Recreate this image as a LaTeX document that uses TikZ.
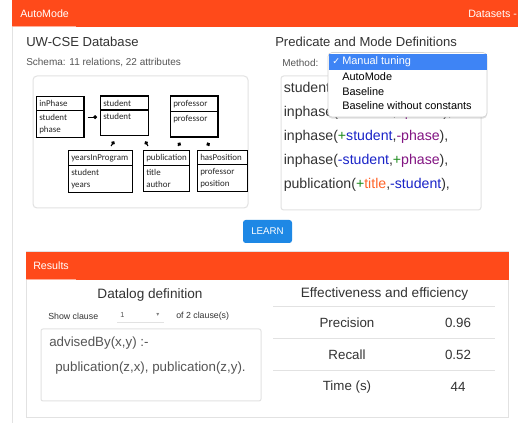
\documentclass[tikz,border=0pt]{standalone}
\usepackage{fontspec}
\setmainfont{Liberation Sans}
\newfontfamily\schemafont{Carlito}
\newfontfamily\symfont{DejaVu Sans}
\usetikzlibrary{arrows.meta,positioning,calc,shapes.multipart,shadows}
\definecolor{barorange}{RGB}{255,74,26}
\definecolor{btnblue}{RGB}{30,136,229}
\definecolor{selblue}{RGB}{62,132,245}
\definecolor{txtdark}{RGB}{51,51,51}
\definecolor{txtgrey}{RGB}{85,85,85}
\definecolor{linegrey}{RGB}{226,226,226}
\definecolor{plusgreen}{RGB}{30,140,30}
\definecolor{typeblue}{RGB}{25,35,200}
\definecolor{typepurple}{RGB}{130,20,130}
\definecolor{typeorange}{RGB}{255,100,40}

\begin{document}
\begin{tikzpicture}[x=0.75pt,y=-0.75pt,>=Latex]
  \tikzstyle{label}=[anchor=west,inner sep=0pt]
  \tikzstyle{heading}=[label,text=txtdark,font=\fontsize{9.8}{12}\selectfont]
  \tikzstyle{small}=[label,text=txtgrey,font=\fontsize{7.5}{9}\selectfont]
  \tikzstyle{code}=[label,text=txtdark,font=\fontsize{10.6}{13}\selectfont]
  \tikzstyle{item}=[label,text=black,font=\fontsize{8.2}{10}\selectfont]
  \tikzstyle{cell}=[inner sep=0pt,text=txtdark,font=\fontsize{10}{12}\selectfont]
  \tikzstyle{frame}=[draw=linegrey,line width=0.75pt]
  \tikzstyle{tbl}=[draw,line width=0.9pt,rectangle split,rectangle split parts=2,anchor=north west,inner xsep=2pt,inner ysep=2.4pt,align=left,text=black!85,font=\schemafont\fontsize{6.7}{9}\selectfont]
  \tikzstyle{link}=[-{Circle[length=2.8pt]},line width=0.8pt]
  \useasboundingbox[fill=white] (0,0) rectangle (518,423);

  % top bar
  \fill[barorange] (12,0) rectangle (518,27);
  \draw[white!55!barorange,line width=0.9pt] (12,26.5) -- (76,26.5);
  \draw[linegrey,line width=0.75pt] (12,27) -- (12,423);
  \node[label,text=white,font=\fontsize{8}{10}\selectfont] (apptitle) at (20,14) {AutoMode};
  \node[label,text=white,font=\fontsize{8}{10}\selectfont] (datasets) at (468,14) {Datasets -};

  % database and schema
  \node[heading] (dbtitle) at (26,42) {UW-CSE Database};
  \node[small] (schema) at (26,63) {Schema: 11 relations, 22 attributes};
  \draw[frame,rounded corners=3pt] (33,76) rectangle (248,208);
  \node[tbl,text width=31.5pt] (inphase) at (36,96) {inPhase\nodepart{two}student\\phase};
  \node[tbl,text width=32pt] (student) at (100,95.5) {student\nodepart{two}student\\\mbox{}};
  \node[tbl,text width=31.5pt] (professor) at (170,95.5) {professor\nodepart{two}professor\\\mbox{}};
  \node[tbl,text width=44pt] (yearsinprogram) at (68,150) {yearsInProgram\nodepart{two}student\\years};
  \node[tbl,text width=30.5pt] (publication) at (143,150) {publication\nodepart{two}title\\author};
  \node[tbl,text width=33.5pt] (hasposition) at (197,150) {hasPosition\nodepart{two}professor\\position};
  \draw[link] ($(inphase.east)+(3,0)$) -- ($(student.west|-inphase.east)+(-3,0)$);
  \draw[link] ($(yearsinprogram.north)+(10.5,-4)$) -- ($(student.south)+(-10.5,5)$);
  \draw[link] ($(publication.north west)+(5,-4)$) -- ($(student.south east)+(-4,5)$);
  \draw[link] ($(publication.north)+(11.5,-4)$) -- ($(professor.south)+(-14,5)$);
  \draw[link] ($(hasposition.north)+(-13.5,-4)$) -- ($(professor.south)+(13,5)$);

  % predicate and mode definitions
  \node[heading] (predtitle) at (275,42) {Predicate and Mode Definitions};
  \node[small] (method) at (282,63) {Method:};
  \draw[frame,rounded corners=2pt] (281,76) rectangle (481,210);
  \node[code] (mode1) at (283.5,89) {student(\textcolor{plusgreen}{+}\textcolor{typeblue}{student}),};
  \node[code] (mode2) at (283.5,113) {inphase(\textcolor{plusgreen}{+}\textcolor{typeblue}{student},\textcolor{plusgreen}{+}\textcolor{typepurple}{phase}),};
  \node[code] (mode3) at (283.5,137) {inphase(\textcolor{plusgreen}{+}\textcolor{typeblue}{student},\textcolor{typepurple}{-phase}),};
  \node[code] (mode4) at (283.5,161) {inphase(\textcolor{typeblue}{-student},\textcolor{plusgreen}{+}\textcolor{typepurple}{phase}),};
  \node[code] (mode5) at (283.5,185) {publication(\textcolor{plusgreen}{+}\textcolor{typeorange}{title},\textcolor{typeblue}{-student}),};

  % method menu
  \filldraw[fill=white,draw=gray!35,line width=0.5pt,rounded corners=3pt,drop shadow={opacity=0.25,shadow xshift=0pt,shadow yshift=-1.2pt}] (328,52.5) rectangle (487,117);
  \fill[selblue] (329,54.5) rectangle (486.5,70);
  \node[label,text=white,font=\symfont\fontsize{7}{9}\selectfont] (check) at (332,62) {✓};
  \node[item,text=white] (manual) at (342,62) {Manual tuning};
  \node[item] (automode) at (342,77) {AutoMode};
  \node[item] (baseline) at (342,91.5) {Baseline};
  \node[item] (noconst) at (342,105.5) {Baseline without constants};

  % learn
  \node[fill=btnblue,rounded corners=2pt,minimum width=36.75pt,minimum height=17.25pt,inner sep=0pt,text=white,font=\fontsize{7.3}{9}\selectfont] (learn) at (267.5,231.5) {LEARN};

  % results
  \draw[frame] (26,252) rectangle (508.5,417.5);
  \fill[barorange] (26,252) rectangle (508.5,280);
  \draw[white!55!barorange,line width=0.9pt] (26,279.5) -- (76,279.5);
  \node[label,text=white,font=\fontsize{8}{10}\selectfont] (results) at (33,266) {Results};

  \node[cell,font=\fontsize{10.2}{12}\selectfont] (dltitle) at (150,295) {Datalog definition};
  \node[small,text=txtdark,font=\fontsize{6.6}{8}\selectfont] (showclause) at (48,316) {Show clause};
  \node[small,font=\fontsize{5.5}{7}\selectfont] (clausenum) at (120,315) {1};
  \node[small,text=gray,font=\symfont\fontsize{4.5}{6}\selectfont] (caret) at (156,315) {▾};
  \draw[linegrey,line width=0.75pt] (117,323) -- (164,323);
  \node[small,text=txtdark,font=\fontsize{6.6}{8}\selectfont] (ofclauses) at (176,316) {of 2 clause(s)};
  \draw[frame,rounded corners=1.5pt] (41,329) rectangle (261,401);
  \node[code,font=\fontsize{10}{12}\selectfont,text=txtgrey] (rulehead) at (49,343) {advisedBy(x,y) :-};
  \node[code,font=\fontsize{10}{12}\selectfont,text=txtgrey] (rulebody) at (55,368) {publication(z,x), publication(z,y).};

  \node[cell,font=\fontsize{10.2}{12}\selectfont] (efftitle) at (384.5,294) {Effectiveness and efficiency};
  \foreach \y in {307,339,371}
    \draw[linegrey,line width=0.75pt] (273,\y) -- (495,\y);
  \node[cell] (precision) at (347,323) {Precision};
  \node[cell] (precval) at (458,323) {0.96};
  \node[cell] (recall) at (347,355) {Recall};
  \node[cell] (recval) at (458,355) {0.52};
  \node[cell] (time) at (347,387) {Time (s)};
  \node[cell] (timeval) at (458,387) {44};
\end{tikzpicture}
\end{document}
